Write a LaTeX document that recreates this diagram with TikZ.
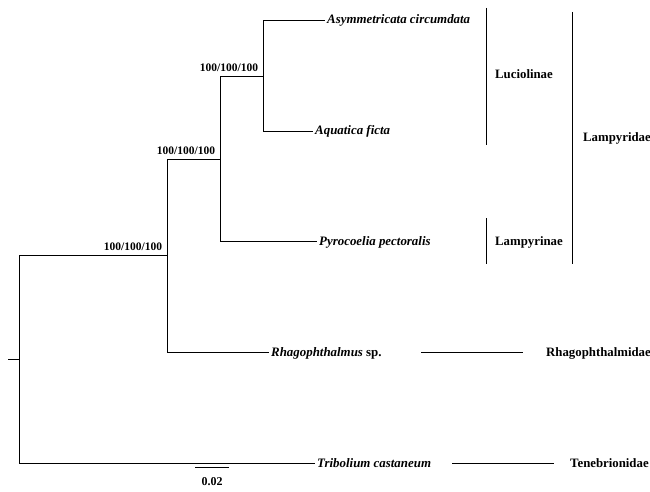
\documentclass[tikz,border=0pt]{standalone}
\usepackage{fontspec}
\setmainfont{Liberation Serif}

\tikzset{
  leaf/.style={anchor=west, inner sep=2pt, font=\fontsize{12.9}{14}\selectfont\bfseries\itshape, text height=8pt, text depth=0pt},
  clade/.style={anchor=west, inner sep=0pt, font=\fontsize{12.8}{14}\selectfont\bfseries, text height=8pt, text depth=0pt},
  support/.style={anchor=south east, inner sep=0.75pt, font=\fontsize{11.5}{12}\selectfont\bfseries},
  branch/.style={line width=0.8pt},
  bar/.style={line width=1pt},
}

\begin{document}
\begin{tikzpicture}[x=1pt,y=1pt,yscale=-1]
\useasboundingbox (0,0) rectangle (650,492);

% inner nodes of the tree
\coordinate (stem) at (8,359);
\coordinate (root) at (19,359);
\coordinate (n1) at (167,255);
\coordinate (n2) at (220,159);
\coordinate (n3) at (263,76);

% Text Node (leaves)
\node[leaf] (asym) at (325,20) {Asymmetricata circumdata};
\node[leaf] (aqua) at (313,131) {Aquatica ficta};
\node[leaf] (pyro) at (317,241) {Pyrocoelia pectoralis};
\node[leaf] (rhago) at (269,352) {Rhagophthalmus {\upshape sp.}};
\node[leaf] (tribo) at (315,463) {Tribolium castaneum};

% Straight Lines (branches)
\draw[branch] (stem) -- (root);
\draw[branch] (root) |- (n1);
\draw[branch] (root) |- (tribo.west);
\draw[branch] (n1) |- (n2);
\draw[branch] (n1) |- (rhago.west);
\draw[branch] (n2) |- (n3);
\draw[branch] (n2) |- (pyro.west);
\draw[branch] (n3) |- (asym.west);
\draw[branch] (n3) |- (aqua.west);

% Text Node (support values), yshift is flipped by yscale=-1
\node[support] (s1) at ([xshift=-4pt,yshift=-3pt]n1) {100/100/100};
\node[support] (s2) at ([xshift=-4pt,yshift=-3pt]n2) {100/100/100};
\node[support] (s3) at ([xshift=-4pt,yshift=-3pt]n3) {100/100/100};

% clade bars
\coordinate (lucT) at (486,8);
\coordinate (lucB) at (486,145);
\coordinate (lamT) at (486,218);
\coordinate (lamB) at (486,264);
\coordinate (famT) at (572,12);
\coordinate (famB) at (572,264);
\coordinate (rhaL) at (421,352);
\coordinate (rhaR) at (523,352);
\coordinate (tenL) at (452,463);
\coordinate (tenR) at (554,463);
\draw[bar] (lucT) -- (lucB);
\draw[bar] (lamT) -- (lamB);
\draw[bar] (famT) -- (famB);
\draw[bar] (rhaL) -- (rhaR);
\draw[bar] (tenL) -- (tenR);

% Text Node (clades)
\node[clade] (luc) at (495,75) {Luciolinae};
\node[clade] (lam) at (495,241) {Lampyrinae};
\node[clade] (fam) at (583,138) {Lampyridae};
\node[clade] (rha) at (546,352) {Rhagophthalmidae};
\node[clade] (ten) at (570,463) {Tenebrionidae};

% scale bar
\coordinate (sclL) at (195,467);
\coordinate (sclR) at (229,467);
\draw[branch] (sclL) -- (sclR);
\node[font=\fontsize{12}{14}\selectfont\bfseries, anchor=north, inner sep=1pt] (scl) at (212,476) {0.02};

\end{tikzpicture}
\end{document}
